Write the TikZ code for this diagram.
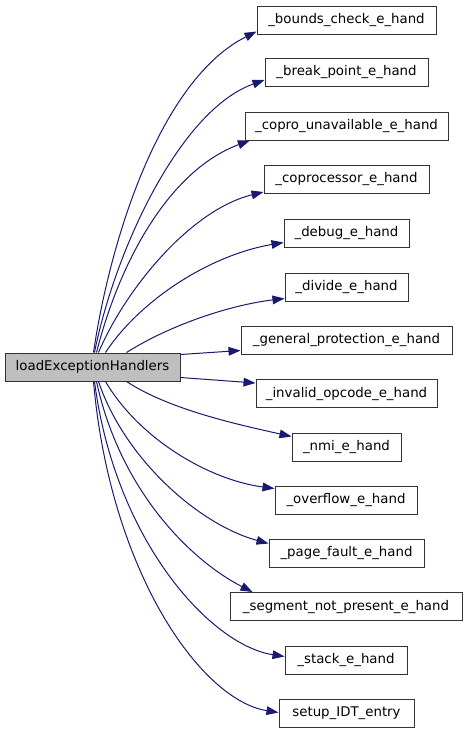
\documentclass[tikz,border=0pt]{standalone}
\usepackage{fontspec}
\setmainfont{DejaVu Sans}
\usetikzlibrary{arrows.meta}
\definecolor{edgeblue}{HTML}{191970}
\begin{document}
\begin{tikzpicture}[x=0.75pt,y=-0.75pt,
  box/.style={draw=black!80, line width=0.75pt, inner sep=0pt, minimum height=21pt, font=\fontsize{10}{12}\selectfont},
  mainbox/.style={box, fill=black!25},
  edge/.style={draw=edgeblue, line width=0.75pt, -{Triangle[length=9pt,width=6.5pt]}}]
\useasboundingbox (0,0) rectangle (469,733);

\node[mainbox, minimum width=131.25pt] (main) at (92.5,367) {loadExceptionHandlers};
\node[box, minimum width=134.25pt] (bc) at (346.5,20) {\_bounds\_check\_e\_hand};
\node[box, minimum width=122.25pt] (bp) at (346.5,72.5) {\_break\_point\_e\_hand};
\node[box, minimum width=152.25pt] (cu) at (346.5,126) {\_copro\_unavailable\_e\_hand};
\node[box, minimum width=123.75pt] (cp) at (346.5,179.5) {\_coprocessor\_e\_hand};
\node[box, minimum width=93.75pt] (db) at (346.5,233) {\_debug\_e\_hand};
\node[box, minimum width=92.25pt] (dv) at (346.5,287) {\_divide\_e\_hand};
\node[box, minimum width=158.25pt] (gp) at (346.5,340) {\_general\_protection\_e\_hand};
\node[box, minimum width=135.75pt] (io) at (346.5,393.5) {\_invalid\_opcode\_e\_hand};
\node[box, minimum width=81.75pt] (nm) at (346.5,447) {\_nmi\_e\_hand};
\node[box, minimum width=106.5pt] (ov) at (346,500) {\_overflow\_e\_hand};
\node[box, minimum width=116.25pt] (pf) at (346.5,553) {\_page\_fault\_e\_hand};
\node[box, minimum width=174pt] (sg) at (346,606.5) {\_segment\_not\_present\_e\_hand};
\node[box, minimum width=91.5pt] (st) at (346,660) {\_stack\_e\_hand};
\node[box, minimum width=101.25pt] (su) at (346.5,713) {setup\_IDT\_entry};

% upward edges
\draw[edge] ([xshift=66.75pt]main.north west) .. controls (110,240) and (160,80) .. ([yshift=2.25pt]bc.south west);
\draw[edge] ([xshift=67.5pt]main.north west) .. controls (115,250) and (180,110) .. ([yshift=5.25pt]bp.south west);
\draw[edge] ([xshift=69pt]main.north west) .. controls (120,260) and (170,170) .. ([xshift=4pt]cu.south west);
\draw[edge] ([xshift=70.5pt]main.north west) .. controls (125,290) and (190,210) .. ([yshift=1.5pt]cp.south west);
\draw[edge] ([xshift=75.75pt]main.north west) .. controls (140,300) and (210,255) .. ([yshift=3.75pt]db.south west);
\draw[edge] ([xshift=91.5pt]main.north west) .. controls (170,325) and (230,305) .. ([yshift=2.25pt]dv.south west);
% side edges
\draw[edge] ([yshift=-1.5pt]main.north east) -- ([yshift=3pt]gp.south west);
\draw[edge] ([yshift=3pt]main.south east) -- ([yshift=-3pt]io.north west);
% downward edges
\draw[edge] ([xshift=91.5pt]main.south west) .. controls (170,410) and (240,425) .. ([yshift=-3pt]nm.north west);
\draw[edge] ([xshift=75.75pt]main.south west) .. controls (140,440) and (210,480) .. ([yshift=-2.25pt]ov.north west);
\draw[edge] ([xshift=70.5pt]main.south west) .. controls (125,460) and (200,525) .. ([yshift=-3.75pt]pf.north west);
\draw[edge] ([xshift=69pt]main.south west) .. controls (120,490) and (190,560) .. ([xshift=17.25pt]sg.north west);
\draw[edge] ([xshift=67.5pt]main.south west) .. controls (115,540) and (210,645) .. ([yshift=-8.25pt]st.north west);
\draw[edge] ([xshift=66.75pt]main.south west) .. controls (110,570) and (200,700) .. ([yshift=-10.5pt]su.north west);
\end{tikzpicture}
\end{document}
